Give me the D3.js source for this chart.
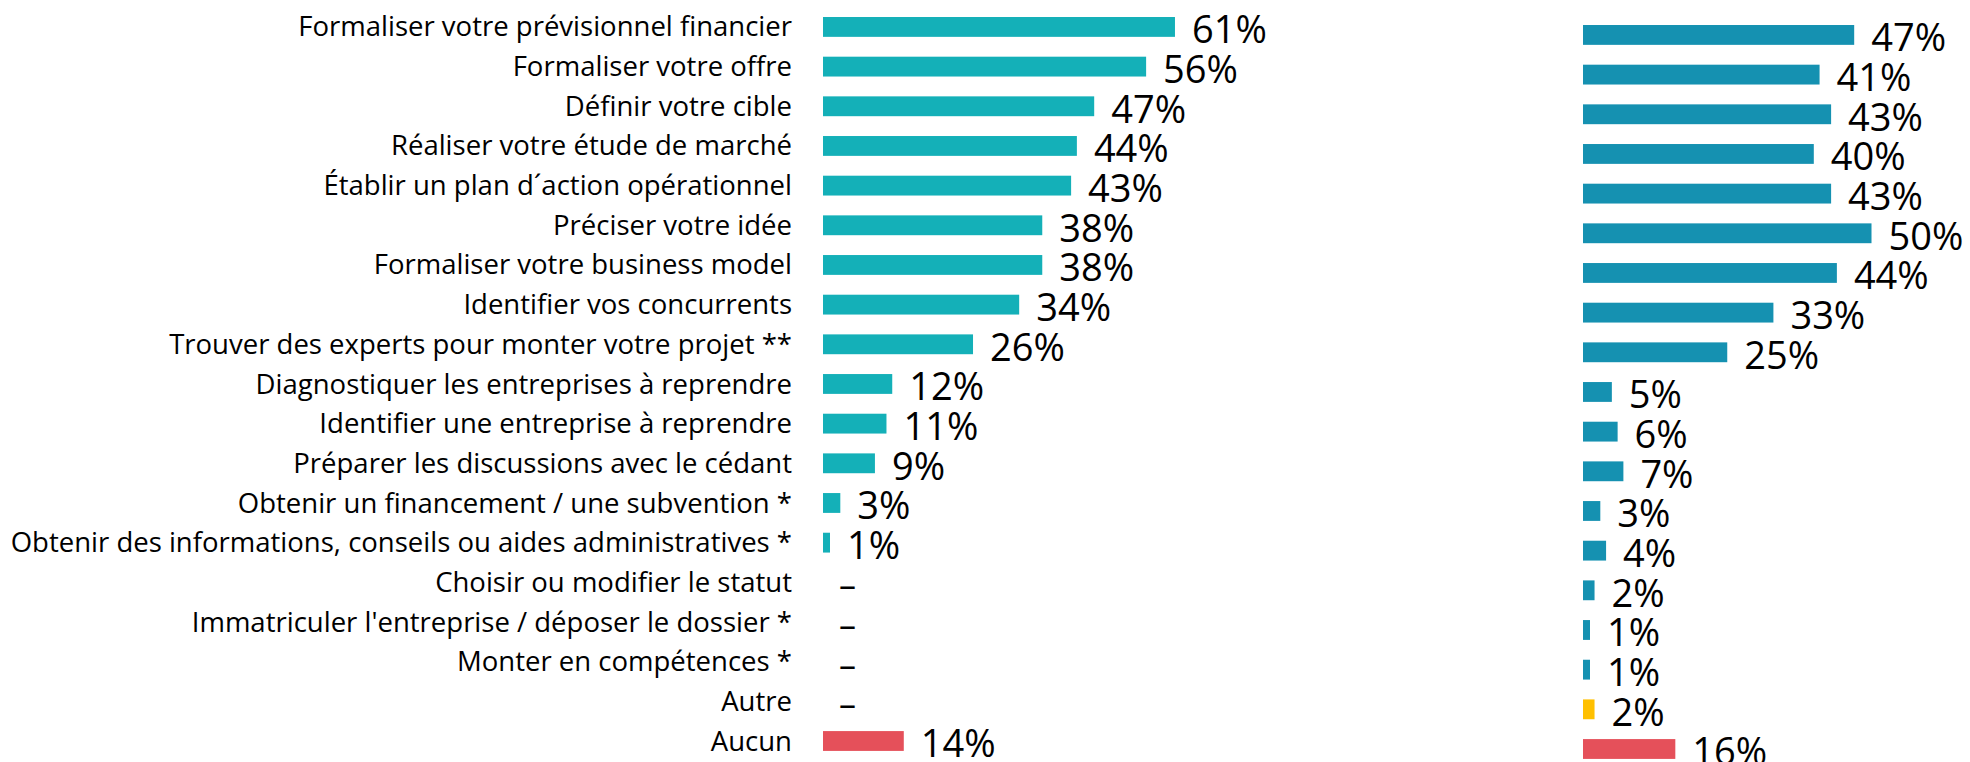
<!DOCTYPE html>
<html>
<head>
<meta charset="utf-8">
<script src="https://cdn.jsdelivr.net/npm/d3@7"></script>
<style>
  html, body { margin: 0; padding: 0; background: #fff; }
  svg { display: block; }
  text { font-family: "Open Sans", "Noto Sans", sans-serif; fill: #000; }
</style>
</head>
<body>
<svg id="chart" width="1970" height="762"></svg>
<script>
// categories, top to bottom
const categories = [
  'Formaliser votre prévisionnel financier',
  'Formaliser votre offre',
  'Définir votre cible',
  'Réaliser votre étude de marché',
  'Établir un plan d´action opérationnel',
  'Préciser votre idée',
  'Formaliser votre business model',
  'Identifier vos concurrents',
  'Trouver des experts pour monter votre projet **',
  'Diagnostiquer les entreprises à reprendre',
  'Identifier une entreprise à reprendre',
  'Préparer les discussions avec le cédant',
  'Obtenir un financement / une subvention *',
  'Obtenir des informations, conseils ou aides administratives *',
  'Choisir ou modifier le statut',
  "Immatriculer l'entreprise / déposer le dossier *",
  'Monter en compétences *',
  'Autre',
  'Aucun'
]

// null = no answer shown ("-")
const leftValues = [61, 56, 47, 44, 43, 38, 38, 34, 26, 12, 11, 9, 3, 1, null, null, null, null, 14]
const rightValues = [47, 41, 43, 40, 43, 50, 44, 33, 25, 5, 6, 7, 3, 4, 2, 1, 1, 2, 16]

const leftColor = '#14b0b8'
const rightColor = '#1591b1'
const otherColor = '#ffc000'
const noneColor = '#e5505a'

const svg = d3.select('#chart')
const step = 39.67
const n = categories.length

const x = d3.scaleLinear().domain([0, 100]).range([0, 577])

function barColor (cat, base) {
  if (cat === 'Aucun') return noneColor
  if (cat === 'Autre') return otherColor
  return base
}

// category labels, font size fitted to the longest one
const labelG = svg.append('g')
const yLab = d3.scaleBand().domain(categories)
  .range([7, 7 + n * step]).paddingInner(0.5).paddingOuter(0.25)

const labels = labelG.selectAll('text')
  .data(categories)
  .join('text')
  .attr('x', 792)
  .attr('y', d => yLab(d) + yLab.bandwidth() / 2)
  .attr('dy', '0.35em')
  .attr('text-anchor', 'end')
  .style('font-size', '20px')
  .text(d => d)

const longest = labels.filter((d, i) => i === 13).node().getComputedTextLength()
labels.style('font-size', (20 * 782 / longest) + 'px')

function drawPanel (values, x0, y0, base) {
  const y = d3.scaleBand().domain(categories)
    .range([y0, y0 + n * step]).paddingInner(0.5).paddingOuter(0.25)
  const g = svg.append('g').attr('transform', `translate(${x0},0)`)
  const rows = categories.map((c, i) => ({ cat: c, v: values[i] }))

  g.selectAll('rect')
    .data(rows.filter(d => d.v !== null))
    .join('rect')
    .attr('x', 0)
    .attr('y', d => y(d.cat))
    .attr('width', d => Math.max(x(d.v), 7))
    .attr('height', y.bandwidth())
    .attr('fill', d => barColor(d.cat, base))

  g.selectAll('text.val')
    .data(rows)
    .join('text')
    .attr('class', 'val')
    .attr('x', d => d.v === null ? 16 : Math.max(x(d.v), 7) + 17)
    .attr('y', d => y(d.cat) + y.bandwidth() / 2 + 3)
    .attr('dy', '0.35em')
    .style('font-size', d => d.v === null ? '34px' : '38px')
    .text(d => d.v === null ? '–' : d.v + '%')
}

drawPanel(leftValues, 823, 7.1, leftColor)
drawPanel(rightValues, 1583, 15.1, rightColor)
</script>
</body>
</html>
